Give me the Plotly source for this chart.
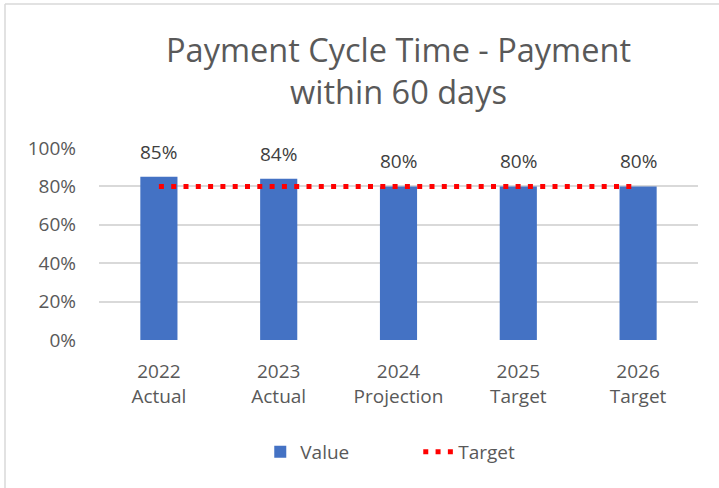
import plotly.graph_objects as go

categories = ["2022<br>Actual", "2023<br>Actual", "2024<br>Projection", "2025<br>Target", "2026<br>Target"]
values = [0.85, 0.84, 0.80, 0.80, 0.80]
target = [0.80, 0.80, 0.80, 0.80, 0.80]
value_labels = ["85%", "84%", "80%", "80%", "80%"]
y_ticks = [0, 0.2, 0.4, 0.6, 0.8, 1.0]
y_tick_labels = ["0%", "20%", "40%", "60%", "80%", "100%"]

FONT = "Open Sans"
GREY = "#595959"

fig = go.Figure()
fig.add_trace(go.Bar(
    x=categories, y=values, name="Value",
    marker=dict(color="#4472C4", line=dict(width=0)),
    width=0.31,
))
fig.add_trace(go.Scatter(
    x=categories, y=target, name="Target", mode="lines",
    line=dict(color="#FF0000", width=5, dash="5px,7.3px"),
))

annotations = [
    dict(x=c, y=v, xref="x", yref="y", text=t, showarrow=False,
         yanchor="middle", yshift=25,
         font=dict(family=FONT, size=19, color="#404040"))
    for c, v, t in zip(categories, values, value_labels)
]

fig.update_layout(
    width=719, height=488,
    margin=dict(l=99, r=21, t=148, b=148, autoexpand=False),
    paper_bgcolor="white", plot_bgcolor="white",
    title=dict(text="Payment Cycle Time - Payment<br>within 60 days",
               x=0.5, xref="paper", xanchor="center", y=1 - 62 / 488, yanchor="middle",
               font=dict(family=FONT, size=32.5, color=GREY)),
    font=dict(family=FONT, color=GREY),
    showlegend=True,
    legend=dict(orientation="h", x=0.533, xanchor="center", y=(340 - 452) / 192, yanchor="middle",
                font=dict(family=FONT, size=19, color=GREY), entrywidth=113),
    xaxis=dict(range=[-0.5, 4.5], showgrid=False, zeroline=False, showline=False,
               automargin=False,
               tickfont=dict(family=FONT, size=19, color=GREY), ticks="",
               ticklabelstandoff=18),
    yaxis=dict(range=[0, 1.0], tickvals=y_ticks, ticktext=y_tick_labels,
               showgrid=True, gridcolor="#D9D9D9", gridwidth=1.5, zeroline=False,
               automargin=False,
               tickfont=dict(family=FONT, size=19, color=GREY), ticklen=0, ticks="",
               ticklabelstandoff=22),
    annotations=annotations,
    shapes=[
        dict(type="line", xref="paper", yref="paper", x0=(5 - 99) / 599, x1=(719 - 99) / 599,
             y0=(340 - 4) / 192, y1=(340 - 4) / 192, line=dict(color="#D9D9D9", width=1.5)),
        dict(type="line", xref="paper", yref="paper", x0=(5 - 99) / 599, x1=(5 - 99) / 599,
             y0=(340 - 4) / 192, y1=(340 - 488) / 192, line=dict(color="#D9D9D9", width=1.5)),
    ],
)

fig.write_html("out.html", config={"displayModeBar": False},
               post_script="document.body.style.margin='0';")
